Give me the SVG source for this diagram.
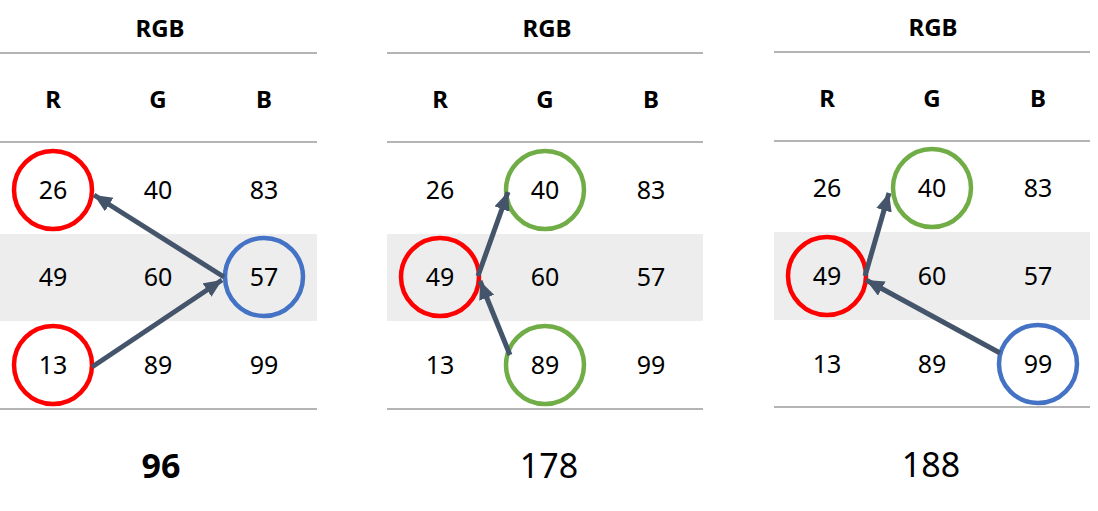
<svg xmlns="http://www.w3.org/2000/svg" width="1098" height="511" viewBox="0 0 1098 511">
<style>
text{font-family:"Noto Sans","Open Sans",sans-serif;text-anchor:middle;fill:#000}
.h{font-weight:bold;font-size:24px}
.c{font-size:25px}
.t{font-size:34px}
.ln{stroke:#b4b4b4;stroke-width:2}
.r{fill:none;stroke:#ff0000;stroke-width:4.5}
.g{fill:none;stroke:#70ad47;stroke-width:4.5}
.b{fill:none;stroke:#4472c4;stroke-width:4.5}
.a{stroke:#44546a;stroke-width:5;marker-end:url(#m)}
</style>
<defs><marker id="m" markerUnits="userSpaceOnUse" markerWidth="20" markerHeight="20" refX="18" refY="8" orient="auto"><path d="M0,0 L18,8 L0,16 Z" fill="#44546a"/></marker></defs>
<g id="table1">
<rect x="0" y="234" width="317" height="87" fill="#ededed"/>
<line class="ln" x1="0" y1="53" x2="317" y2="53"/><line class="ln" x1="0" y1="142" x2="317" y2="142"/><line class="ln" x1="0" y1="409" x2="317" y2="409"/>
<text class="h" x="160" y="37">RGB</text>
<text class="h" x="53" y="108">R</text><text class="h" x="158" y="108">G</text><text class="h" x="264" y="108">B</text>
<text class="c" x="53" y="199">26</text><text class="c" x="158" y="199">40</text><text class="c" x="264" y="199">83</text>
<text class="c" x="53" y="286">49</text><text class="c" x="158" y="286">60</text><text class="c" x="264" y="286">57</text>
<text class="c" x="53" y="374">13</text><text class="c" x="158" y="374">89</text><text class="c" x="264" y="374">99</text>
<circle class="r" cx="53" cy="190" r="39"/><circle class="r" cx="53" cy="365" r="39"/><circle class="b" cx="264" cy="277" r="39"/>
<text class="t" x="161" y="478" font-weight="bold">96</text>
</g>
<g id="table2">
<rect x="387" y="234" width="316" height="87" fill="#ededed"/>
<line class="ln" x1="387" y1="53" x2="703" y2="53"/><line class="ln" x1="387" y1="142" x2="703" y2="142"/><line class="ln" x1="387" y1="409" x2="703" y2="409"/>
<text class="h" x="547" y="37">RGB</text>
<text class="h" x="440" y="108">R</text><text class="h" x="545" y="108">G</text><text class="h" x="651" y="108">B</text>
<text class="c" x="440" y="199">26</text><text class="c" x="545" y="199">40</text><text class="c" x="651" y="199">83</text>
<text class="c" x="440" y="286">49</text><text class="c" x="545" y="286">60</text><text class="c" x="651" y="286">57</text>
<text class="c" x="440" y="374">13</text><text class="c" x="545" y="374">89</text><text class="c" x="651" y="374">99</text>
<circle class="g" cx="545" cy="190" r="39"/><circle class="r" cx="440" cy="277" r="39"/><circle class="g" cx="545" cy="365" r="39"/>
<text class="t" x="549" y="478">178</text>
</g>
<g id="table3">
<rect x="774" y="232" width="316" height="88" fill="#ededed"/>
<line class="ln" x1="774" y1="52" x2="1090" y2="52"/><line class="ln" x1="774" y1="141" x2="1090" y2="141"/><line class="ln" x1="774" y1="407" x2="1090" y2="407"/>
<text class="h" x="933" y="36">RGB</text>
<text class="h" x="827" y="107">R</text><text class="h" x="932" y="107">G</text><text class="h" x="1038" y="107">B</text>
<text class="c" x="827" y="197">26</text><text class="c" x="932" y="197">40</text><text class="c" x="1038" y="197">83</text>
<text class="c" x="827" y="285">49</text><text class="c" x="932" y="285">60</text><text class="c" x="1038" y="285">57</text>
<text class="c" x="827" y="373">13</text><text class="c" x="932" y="373">89</text><text class="c" x="1038" y="373">99</text>
<circle class="g" cx="932" cy="188" r="39"/><circle class="r" cx="827" cy="276" r="39"/><circle class="b" cx="1038" cy="364" r="39"/>
<text class="t" x="931" y="477">188</text>
</g>
<g id="connectors">
<line class="a" x1="224" y1="277" x2="94" y2="195"/>
<line class="a" x1="92" y1="367" x2="222" y2="280"/>
<line class="a" x1="478" y1="276" x2="508" y2="192"/>
<line class="a" x1="510" y1="355" x2="480" y2="281"/>
<line class="a" x1="865" y1="276" x2="889" y2="193"/>
<line class="a" x1="1000" y1="353" x2="866" y2="280"/>
</g>
</svg>
